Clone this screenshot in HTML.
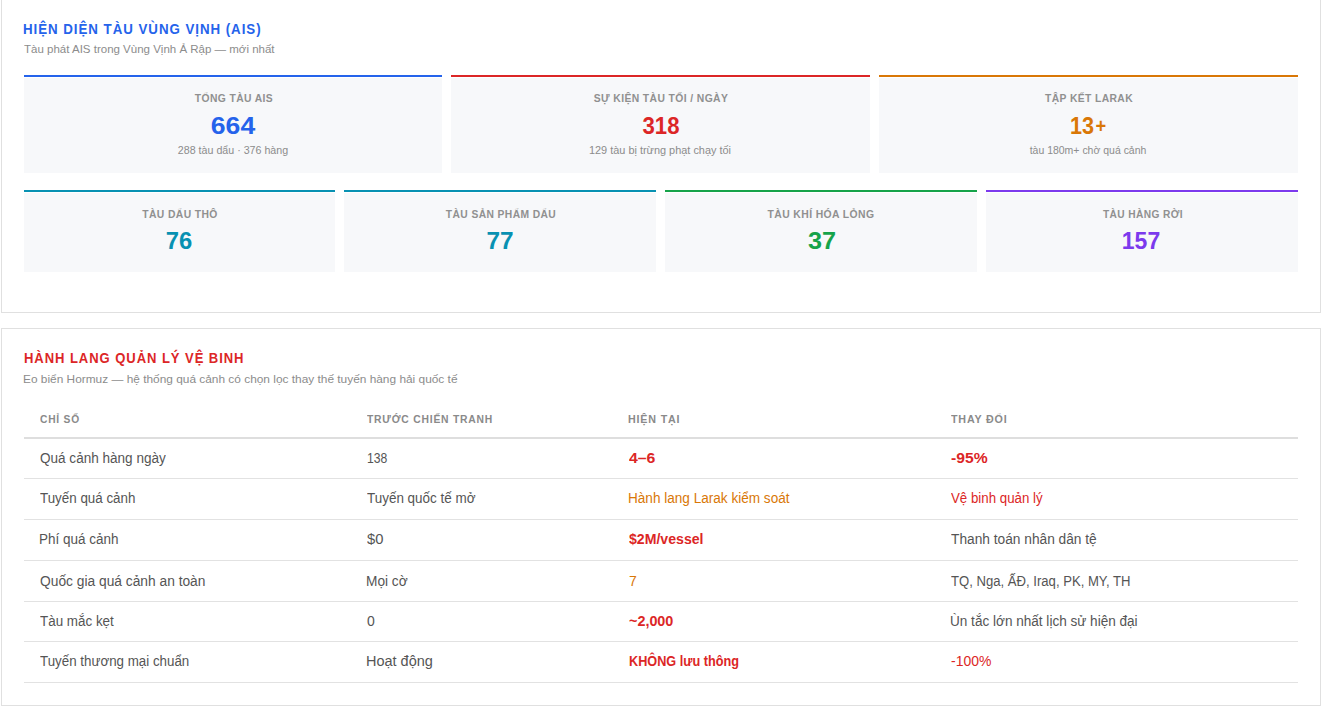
<!DOCTYPE html>
<html><head><meta charset="utf-8">
<style>
html,body{margin:0;padding:0;background:#fff;}
body{width:1322px;height:706px;overflow:hidden;position:relative;font-family:"Liberation Sans",sans-serif;}
.box{position:absolute;left:1px;width:1318px;border:1px solid #e0e0e0;}
.card{position:absolute;box-sizing:border-box;border-top:2px solid;background:#f7f8fa;box-shadow:inset 0 1px 0 #fff;}
.t{position:absolute;white-space:nowrap;line-height:normal;}
.ln{position:absolute;left:24px;width:1274px;}
</style></head>
<body>
<div class="box" style="top:-1px;height:312px;"></div>
<div class="box" style="top:328px;height:376px;"></div>
<div class="card" style="left:24px;top:75px;width:418px;height:98px;border-color:#2563eb;"></div>
<div class="card" style="left:451px;top:75px;width:419px;height:98px;border-color:#dc2626;"></div>
<div class="card" style="left:879px;top:75px;width:419px;height:98px;border-color:#d97706;"></div>
<div class="card" style="left:24px;top:190px;width:311px;height:82px;border-color:#0891b2;"></div>
<div class="card" style="left:344px;top:190px;width:312px;height:82px;border-color:#0891b2;"></div>
<div class="card" style="left:665px;top:190px;width:312px;height:82px;border-color:#16a34a;"></div>
<div class="card" style="left:986px;top:190px;width:312px;height:82px;border-color:#7c3aed;"></div>
<div class="ln" style="top:437px;height:2px;background:#dedede;"></div>
<div class="ln" style="top:478px;height:1px;background:#e2e2e2;"></div>
<div class="ln" style="top:519px;height:1px;background:#e2e2e2;"></div>
<div class="ln" style="top:560px;height:1px;background:#e2e2e2;"></div>
<div class="ln" style="top:601px;height:1px;background:#e2e2e2;"></div>
<div class="ln" style="top:641px;height:1px;background:#e2e2e2;"></div>
<div class="ln" style="top:682px;height:1px;background:#e2e2e2;"></div>
<div class="t" id="t1" style="top:21.00px;font-size:14.00px;font-weight:bold;color:#2563eb;letter-spacing:1.00px;left:23.00px;transform-origin:0 0;transform:scaleX(0.9516);">HIỆN DIỆN TÀU VÙNG VỊNH (AIS)</div>
<div class="t" id="s1" style="top:43.00px;font-size:11.00px;font-weight:normal;color:#8c8c8c;left:24.00px;transform-origin:0 0;transform:scaleX(1.0458);">Tàu phát AIS trong Vùng Vịnh Ả Rập — mới nhất</div>
<div class="t" id="c1l0" style="top:92.00px;font-size:10.50px;font-weight:bold;color:#909090;letter-spacing:0.40px;left:233.50px;width:0;display:flex;justify-content:center;transform-origin:0 0;transform:scaleX(0.9824);">TỔNG TÀU AIS</div>
<div class="t" id="c1v0" style="top:113.60px;font-size:22.50px;font-weight:bold;color:#2563eb;left:232.50px;width:0;display:flex;justify-content:center;transform-origin:0 20.363px;transform:scale(1.1810,1.0350);">664</div>
<div class="t" id="c1s0" style="top:144.50px;font-size:10.00px;font-weight:normal;color:#8c8c8c;left:232.50px;width:0;display:flex;justify-content:center;transform-origin:0 0;transform:scaleX(1.0664);">288 tàu dẩu · 376 hàng</div>
<div class="t" id="c1l1" style="top:92.00px;font-size:10.50px;font-weight:bold;color:#909090;letter-spacing:0.40px;left:660.50px;width:0;display:flex;justify-content:center;transform-origin:0 0;transform:scaleX(0.9853);">SỰ KIỆN TÀU TỐI / NGÀY</div>
<div class="t" id="c1v1" style="top:113.60px;font-size:22.50px;font-weight:bold;color:#dc2626;left:661.00px;width:0;display:flex;justify-content:center;transform-origin:0 20.363px;transform:scale(0.9848,1.0350);">318</div>
<div class="t" id="c1s1" style="top:144.50px;font-size:10.00px;font-weight:normal;color:#8c8c8c;left:660.00px;width:0;display:flex;justify-content:center;transform-origin:0 0;transform:scaleX(1.0919);">129 tàu bị trừng phạt chạy tối</div>
<div class="t" id="c1l2" style="top:92.00px;font-size:10.50px;font-weight:bold;color:#909090;letter-spacing:0.40px;left:1088.50px;width:0;display:flex;justify-content:center;transform-origin:0 0;transform:scaleX(0.9821);">TẬP KẾT LARAK</div>
<div class="t" id="c1v2" style="top:113.60px;font-size:22.50px;font-weight:bold;color:#d97706;left:1088.00px;width:0;display:flex;justify-content:center;transform-origin:0 20.363px;transform:scale(0.9624,1.0350);">13<span style="font-size:19px;margin-left:1.5px;position:relative;top:2px;">+</span></div>
<div class="t" id="c1s2" style="top:144.50px;font-size:10.00px;font-weight:normal;color:#8c8c8c;left:1088.00px;width:0;display:flex;justify-content:center;transform-origin:0 0;transform:scaleX(1.0480);">tàu 180m+ chờ quá cảnh</div>
<div class="t" id="c2l0" style="top:208.00px;font-size:10.50px;font-weight:bold;color:#909090;letter-spacing:0.40px;left:179.50px;width:0;display:flex;justify-content:center;transform-origin:0 0;transform:scaleX(0.9843);">TÀU DẨU THÔ</div>
<div class="t" id="c2v0" style="top:228.60px;font-size:22.50px;font-weight:bold;color:#0891b2;left:179.00px;width:0;display:flex;justify-content:center;transform-origin:0 20.363px;transform:scale(1.0589,1.0350);">76</div>
<div class="t" id="c2l1" style="top:208.00px;font-size:10.50px;font-weight:bold;color:#909090;letter-spacing:0.40px;left:500.50px;width:0;display:flex;justify-content:center;transform-origin:0 0;transform:scaleX(0.9805);">TÀU SẢN PHẨM DẨU</div>
<div class="t" id="c2v1" style="top:228.60px;font-size:22.50px;font-weight:bold;color:#0891b2;left:500.00px;width:0;display:flex;justify-content:center;transform-origin:0 20.363px;transform:scale(1.0833,1.0350);">77</div>
<div class="t" id="c2l2" style="top:208.00px;font-size:10.50px;font-weight:bold;color:#909090;letter-spacing:0.40px;left:821.00px;width:0;display:flex;justify-content:center;transform-origin:0 0;transform:scaleX(0.9889);">TÀU KHÍ HÓA LỎNG</div>
<div class="t" id="c2v2" style="top:228.60px;font-size:22.50px;font-weight:bold;color:#16a34a;left:821.50px;width:0;display:flex;justify-content:center;transform-origin:0 20.363px;transform:scale(1.1215,1.0350);">37</div>
<div class="t" id="c2l3" style="top:208.00px;font-size:10.50px;font-weight:bold;color:#909090;letter-spacing:0.40px;left:1142.50px;width:0;display:flex;justify-content:center;transform-origin:0 0;transform:scaleX(0.9685);">TÀU HÀNG RỜI</div>
<div class="t" id="c2v3" style="top:228.60px;font-size:22.50px;font-weight:bold;color:#7c3aed;left:1141.00px;width:0;display:flex;justify-content:center;transform-origin:0 20.363px;transform:scale(1.0233,1.0350);">157</div>
<div class="t" id="t2" style="top:350.00px;font-size:14.00px;font-weight:bold;color:#dc2626;letter-spacing:1.00px;left:24.00px;transform-origin:0 0;transform:scaleX(0.9319);">HÀNH LANG QUẢN LÝ VỆ BINH</div>
<div class="t" id="s2" style="top:373.00px;font-size:11.00px;font-weight:normal;color:#8c8c8c;left:23.00px;transform-origin:0 0;transform:scaleX(1.0798);">Eo biển Hormuz — hệ thống quá cảnh có chọn lọc thay thế tuyến hàng hải quốc tế</div>
<div class="t" id="h0" style="top:413.00px;font-size:10.50px;font-weight:bold;color:#8a8a8a;letter-spacing:0.80px;left:39.50px;transform-origin:0 0;transform:scaleX(0.9750);">CHỈ SỐ</div>
<div class="t" id="h1" style="top:413.00px;font-size:10.50px;font-weight:bold;color:#8a8a8a;letter-spacing:0.80px;left:367.00px;transform-origin:0 0;transform:scaleX(0.9843);">TRƯỚC CHIẾN TRANH</div>
<div class="t" id="h2" style="top:413.00px;font-size:10.50px;font-weight:bold;color:#8a8a8a;letter-spacing:0.80px;left:628.00px;transform-origin:0 0;transform:scaleX(1.0204);">HIỆN TẠI</div>
<div class="t" id="h3" style="top:413.00px;font-size:10.50px;font-weight:bold;color:#8a8a8a;letter-spacing:0.80px;left:950.50px;transform-origin:0 0;transform:scaleX(1.0185);">THAY ĐỔI</div>
<div class="t" id="r0c0" style="top:450.00px;font-size:14.00px;font-weight:normal;color:#555555;left:39.50px;transform-origin:0 0;transform:scaleX(0.9677);">Quá cảnh hàng ngày</div>
<div class="t" id="r0c1" style="top:450.00px;font-size:14.00px;font-weight:normal;color:#555555;left:367.00px;transform-origin:0 0;transform:scaleX(0.8688);">138</div>
<div class="t" id="r0c2" style="top:450.00px;font-size:14.00px;font-weight:bold;color:#dc2626;left:629.00px;transform-origin:0 0;transform:scaleX(1.1304);">4–6</div>
<div class="t" id="r0c3" style="top:450.00px;font-size:14.00px;font-weight:bold;color:#dc2626;left:950.50px;transform-origin:0 0;transform:scaleX(1.1188);">-95%</div>
<div class="t" id="r1c0" style="top:490.00px;font-size:14.00px;font-weight:normal;color:#555555;left:39.50px;transform-origin:0 0;transform:scaleX(0.9553);">Tuyến quá cảnh</div>
<div class="t" id="r1c1" style="top:490.00px;font-size:14.00px;font-weight:normal;color:#555555;left:367.00px;transform-origin:0 0;transform:scaleX(0.9608);">Tuyến quốc tế mở</div>
<div class="t" id="r1c2" style="top:490.00px;font-size:14.00px;font-weight:normal;color:#d97706;left:628.00px;transform-origin:0 0;transform:scaleX(0.9699);">Hành lang Larak kiểm soát</div>
<div class="t" id="r1c3" style="top:490.00px;font-size:14.00px;font-weight:normal;color:#dc2626;left:950.50px;transform-origin:0 0;transform:scaleX(0.9497);">Vệ binh quản lý</div>
<div class="t" id="r2c0" style="top:531.00px;font-size:14.00px;font-weight:normal;color:#555555;left:38.50px;transform-origin:0 0;transform:scaleX(0.9636);">Phí quá cảnh</div>
<div class="t" id="r2c1" style="top:531.00px;font-size:14.00px;font-weight:normal;color:#555555;left:367.00px;transform-origin:0 0;transform:scaleX(1.0551);">$0</div>
<div class="t" id="r2c2" style="top:531.00px;font-size:14.00px;font-weight:bold;color:#dc2626;left:629.00px;transform-origin:0 0;transform:scaleX(1.0078);">$2M/vessel</div>
<div class="t" id="r2c3" style="top:531.00px;font-size:14.00px;font-weight:normal;color:#555555;left:950.50px;transform-origin:0 0;transform:scaleX(0.9802);">Thanh toán nhân dân tệ</div>
<div class="t" id="r3c0" style="top:573.00px;font-size:14.00px;font-weight:normal;color:#555555;left:39.50px;transform-origin:0 0;transform:scaleX(0.9840);">Quốc gia quá cảnh an toàn</div>
<div class="t" id="r3c1" style="top:573.00px;font-size:14.00px;font-weight:normal;color:#555555;left:366.00px;transform-origin:0 0;transform:scaleX(0.9773);">Mọi cờ</div>
<div class="t" id="r3c2" style="top:573.00px;font-size:14.00px;font-weight:normal;color:#d97706;left:629.00px;transform-origin:0 0;">7</div>
<div class="t" id="r3c3" style="top:573.00px;font-size:14.00px;font-weight:normal;color:#555555;left:950.50px;transform-origin:0 0;transform:scaleX(0.9362);">TQ, Nga, ẤĐ, Iraq, PK, MY, TH</div>
<div class="t" id="r4c0" style="top:613.00px;font-size:14.00px;font-weight:normal;color:#555555;left:39.50px;transform-origin:0 0;transform:scaleX(0.9582);">Tàu mắc kẹt</div>
<div class="t" id="r4c1" style="top:613.00px;font-size:14.00px;font-weight:normal;color:#555555;left:367.00px;transform-origin:0 0;">0</div>
<div class="t" id="r4c2" style="top:613.00px;font-size:14.00px;font-weight:bold;color:#dc2626;left:629.00px;transform-origin:0 0;transform:scaleX(1.0265);">~2,000</div>
<div class="t" id="r4c3" style="top:613.00px;font-size:14.00px;font-weight:normal;color:#555555;left:949.50px;transform-origin:0 0;transform:scaleX(0.9689);">Ùn tắc lớn nhất lịch sử hiện đại</div>
<div class="t" id="r5c0" style="top:653.00px;font-size:14.00px;font-weight:normal;color:#555555;left:39.50px;transform-origin:0 0;transform:scaleX(0.9535);">Tuyến thương mại chuẩn</div>
<div class="t" id="r5c1" style="top:653.00px;font-size:14.00px;font-weight:normal;color:#555555;left:366.00px;transform-origin:0 0;transform:scaleX(1.0338);">Hoạt động</div>
<div class="t" id="r5c2" style="top:653.00px;font-size:14.00px;font-weight:bold;color:#dc2626;left:629.00px;transform-origin:0 0;transform:scaleX(0.9064);">KHÔNG lưu thông</div>
<div class="t" id="r5c3" style="top:653.00px;font-size:14.00px;font-weight:normal;color:#dc2626;left:950.50px;transform-origin:0 0;transform:scaleX(0.9958);">-100%</div>
</body></html>
